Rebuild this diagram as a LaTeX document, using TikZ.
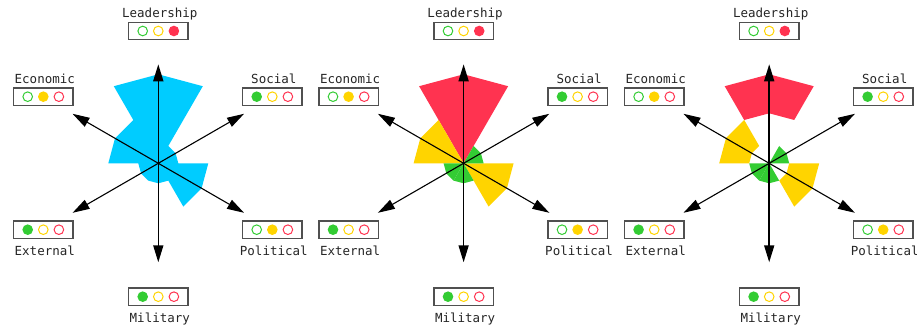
\documentclass[tikz,border=0pt]{standalone}
\usepackage{fontspec}
\setmonofont{DejaVu Sans Mono}
\usetikzlibrary{arrows.meta}
\definecolor{cgreen}{RGB}{51,204,51}
\definecolor{cyellow}{RGB}{255,212,0}
\definecolor{cred}{RGB}{255,51,80}
\definecolor{cblue}{RGB}{0,204,255}
\definecolor{boxgray}{RGB}{80,80,80}
\newcommand\sectorW[3]{\fill[#3] (0,0) -- (#1:#2) -- ({#1+30}:#2) -- ({#1+60}:#2) -- cycle;}
\newcommand\sectorB[4]{\fill[#4] (#1:#2) -- ({#1+30}:#2) -- ({#1+60}:#2) -- ({#1+60}:#3) -- ({#1+30}:#3) -- (#1:#3) -- cycle;}
\begin{document}
\begin{tikzpicture}[x=1pt,y=1pt,
  tip/.style={{Triangle[length=17pt,width=10pt]}-{Triangle[length=17pt,width=10pt]}},
  axisv/.style={tip,line width=1.6pt,black},
  axisd/.style={tip,line width=1.1pt,black},
  ratebox/.style={draw=boxgray,line width=1.4pt,minimum width=59.2pt,minimum height=17.4pt,inner sep=0pt,fill=white},
  on/.style={circle,fill=#1,minimum size=10.6pt,inner sep=0pt},
  off/.style={circle,draw=#1,line width=1pt,minimum size=9.6pt,inner sep=0pt},
  lbl/.style={font=\ttfamily\fontsize{12.5}{14}\selectfont,text=black!85,inner sep=0pt,anchor=base}]
\useasboundingbox (0,0) rectangle (917,331);
\fill[white] (0,0) rectangle (917,331);

% ---- panel sectors ----
\begin{scope}[shift={(158.3,167.7)}]
  \fill[cblue] (0:20) -- (30:20) -- (60:20) -- (60:89) -- (90:89) -- (120:89)
    -- (120:50) -- (150:50) -- (180:50) -- (180:20) -- (210:20) -- (240:20)
    -- (270:20) -- (300:20) -- (300:50) -- (330:50) -- (360:50) -- cycle;
\end{scope}
\begin{scope}[shift={(463.6,167.7)}]
  \sectorW{60}{89}{cred}
  \sectorW{120}{50}{cyellow}
  \sectorW{300}{50}{cyellow}
  \sectorW{0}{20}{cgreen}
  \sectorW{180}{20}{cgreen}
  \sectorW{240}{20}{cgreen}
\end{scope}
\begin{scope}[shift={(769.2,167.7)}]
  \sectorB{60}{50}{89}{cred}
  \sectorB{120}{20}{50}{cyellow}
  \sectorB{300}{20}{50}{cyellow}
  \sectorW{0}{20}{cgreen}
  \sectorW{180}{20}{cgreen}
  \sectorW{240}{20}{cgreen}
\end{scope}

% ---- axes and rating boxes ----
\foreach \p/\cx in {1/158.3,2/463.6,3/769.2}{
\begin{scope}[shift={(\cx,167.7)}]
  \coordinate (a\p L) at (90:99);
  \coordinate (a\p M) at (270:99);
  \coordinate (a\p E) at (150:99);
  \coordinate (a\p P) at (330:99);
  \coordinate (a\p S) at (30:99);
  \coordinate (a\p X) at (210:99);
  \draw[axisd] (a\p P) -- (a\p E);
  \draw[axisd] (a\p X) -- (a\p S);
  \draw[axisv] (a\p M) -- (a\p L);
  \foreach \id/\bx/\by/\txt/\nn/\tb in {L/0/132.3/Leadership/3/t, E/-115/66.6/Economic/2/t, S/114/66.6/Social/1/t, X/-115/-66.4/External/1/b, P/114/-66.4/Political/2/b, M/0/-133.4/Military/1/b}{
    \node[ratebox] (b\p\id) at (\bx,\by) {};
    \foreach \kk/\col/\dx in {1/cgreen/-15.6, 2/cyellow/0, 3/cred/15.6}{
      \ifnum\kk=\nn
        \node[on=\col] (c\p\id\kk) at ([xshift=\dx pt]b\p\id.center) {};
      \else
        \node[off=\col] (c\p\id\kk) at ([xshift=\dx pt]b\p\id.center) {};
      \fi
    }
    \if t\tb
      \node[lbl] (t\p\id) at ([shift={(1.5,13.5)}]b\p\id.center) {\txt};
    \else
      \node[lbl] (t\p\id) at ([shift={(1.5,-26)}]b\p\id.center) {\txt};
    \fi
  }
\end{scope}
}
\end{tikzpicture}
\end{document}
